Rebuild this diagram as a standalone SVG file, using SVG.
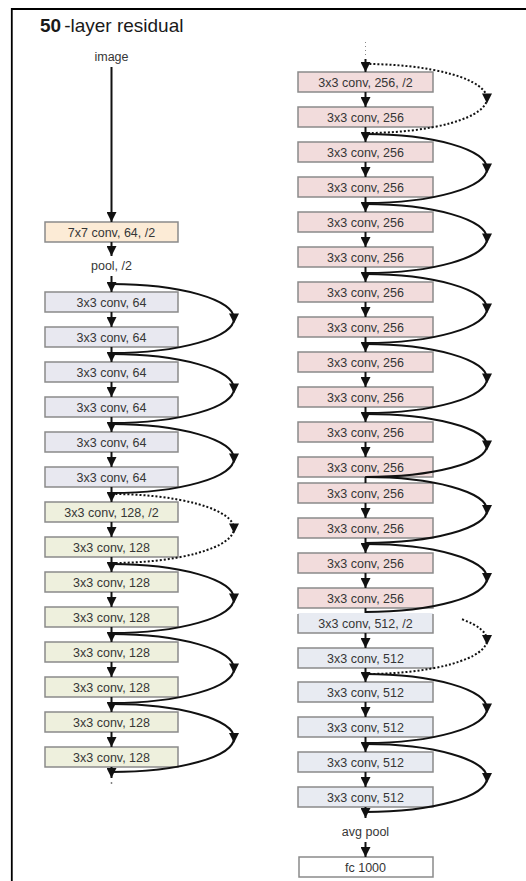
<svg xmlns="http://www.w3.org/2000/svg" width="526" height="881" viewBox="0 0 526 881">
<defs>
<style>
.bx{stroke:#8a8a8a;stroke-width:1.5}
.c64{fill:#e8e8f0}.c128{fill:#eef0dd}.c256{fill:#f2dcdc}.c512{fill:#e8ebf2}.c7{fill:#fcebd6}.cfc{fill:#ffffff}
.t{font-family:"Liberation Sans",Arial,sans-serif;font-size:12.5px;fill:#363636;text-anchor:middle}
.ln{fill:none;stroke:#111;stroke-width:2}
.ar{marker-end:url(#ah)}
.sk{fill:none;stroke:#111;stroke-width:2;marker-mid:url(#am)}
.dash{stroke-dasharray:2 2}
</style>
<marker id="ah" viewBox="0 0 10 10" refX="10" refY="5" markerWidth="11" markerHeight="10" markerUnits="userSpaceOnUse" orient="auto"><path d="M0,0 L10,5 L0,10 z" fill="#111"/></marker>
<marker id="am" viewBox="0 0 10 10" refX="5" refY="5" markerWidth="11" markerHeight="10" markerUnits="userSpaceOnUse" orient="auto"><path d="M0,0 L10,5 L0,10 z" fill="#111"/></marker>
</defs>
<rect width="526" height="881" fill="#fff"/>
<path d="M11.8,881 V9 H526" fill="none" stroke="#000" stroke-width="1.8"/>
<text x="40" y="31.5" font-family="'Liberation Sans',Arial,sans-serif" font-size="19" fill="#1a1a1a"><tspan font-weight="bold">50</tspan><tspan dx="3">-layer residual</tspan></text>

<g id="n-image"><text class="t" x="111.5" y="61" font-size="11">image</text></g>
<g id="n-conv7"><rect class="bx c7" x="45" y="222" width="133" height="20"/><text class="t" x="111.5" y="236.5">7x7 conv, 64, /2</text></g>
<g id="n-pool"><text class="t" x="111.5" y="270">pool, /2</text></g>

<g id="n-L0"><rect class="bx c64" x="45" y="292" width="133" height="20"/><text class="t" x="111.5" y="306.5">3x3 conv, 64</text></g>
<g id="n-L1"><rect class="bx c64" x="45" y="327" width="133" height="20"/><text class="t" x="111.5" y="341.5">3x3 conv, 64</text></g>
<g id="n-L2"><rect class="bx c64" x="45" y="362" width="133" height="20"/><text class="t" x="111.5" y="376.5">3x3 conv, 64</text></g>
<g id="n-L3"><rect class="bx c64" x="45" y="397" width="133" height="20"/><text class="t" x="111.5" y="411.5">3x3 conv, 64</text></g>
<g id="n-L4"><rect class="bx c64" x="45" y="432" width="133" height="20"/><text class="t" x="111.5" y="446.5">3x3 conv, 64</text></g>
<g id="n-L5"><rect class="bx c64" x="45" y="467" width="133" height="20"/><text class="t" x="111.5" y="481.5">3x3 conv, 64</text></g>
<g id="n-L6"><rect class="bx c128" x="45" y="502" width="133" height="20"/><text class="t" x="111.5" y="516.5">3x3 conv, 128, /2</text></g>
<g id="n-L7"><rect class="bx c128" x="45" y="537" width="133" height="20"/><text class="t" x="111.5" y="551.5">3x3 conv, 128</text></g>
<g id="n-L8"><rect class="bx c128" x="45" y="572" width="133" height="20"/><text class="t" x="111.5" y="586.5">3x3 conv, 128</text></g>
<g id="n-L9"><rect class="bx c128" x="45" y="607" width="133" height="20"/><text class="t" x="111.5" y="621.5">3x3 conv, 128</text></g>
<g id="n-L10"><rect class="bx c128" x="45" y="642" width="133" height="20"/><text class="t" x="111.5" y="656.5">3x3 conv, 128</text></g>
<g id="n-L11"><rect class="bx c128" x="45" y="677" width="133" height="20"/><text class="t" x="111.5" y="691.5">3x3 conv, 128</text></g>
<g id="n-L12"><rect class="bx c128" x="45" y="712" width="133" height="20"/><text class="t" x="111.5" y="726.5">3x3 conv, 128</text></g>
<g id="n-L13"><rect class="bx c128" x="45" y="747" width="133" height="20"/><text class="t" x="111.5" y="761.5">3x3 conv, 128</text></g>

<g id="n-R0"><rect class="bx c256" x="298" y="72" width="135" height="20"/><text class="t" x="365.5" y="86.5">3x3 conv, 256, /2</text></g>
<g id="n-R1"><rect class="bx c256" x="298" y="107" width="135" height="20"/><text class="t" x="365.5" y="121.5">3x3 conv, 256</text></g>
<g id="n-R2"><rect class="bx c256" x="298" y="142" width="135" height="20"/><text class="t" x="365.5" y="156.5">3x3 conv, 256</text></g>
<g id="n-R3"><rect class="bx c256" x="298" y="177" width="135" height="20"/><text class="t" x="365.5" y="191.5">3x3 conv, 256</text></g>
<g id="n-R4"><rect class="bx c256" x="298" y="212" width="135" height="20"/><text class="t" x="365.5" y="226.5">3x3 conv, 256</text></g>
<g id="n-R5"><rect class="bx c256" x="298" y="247" width="135" height="20"/><text class="t" x="365.5" y="261.5">3x3 conv, 256</text></g>
<g id="n-R6"><rect class="bx c256" x="298" y="282" width="135" height="20"/><text class="t" x="365.5" y="296.5">3x3 conv, 256</text></g>
<g id="n-R7"><rect class="bx c256" x="298" y="317" width="135" height="20"/><text class="t" x="365.5" y="331.5">3x3 conv, 256</text></g>
<g id="n-R8"><rect class="bx c256" x="298" y="352" width="135" height="20"/><text class="t" x="365.5" y="366.5">3x3 conv, 256</text></g>
<g id="n-R9"><rect class="bx c256" x="298" y="387" width="135" height="20"/><text class="t" x="365.5" y="401.5">3x3 conv, 256</text></g>
<g id="n-R10"><rect class="bx c256" x="298" y="422" width="135" height="20"/><text class="t" x="365.5" y="436.5">3x3 conv, 256</text></g>
<g id="n-R11"><rect class="bx c256" x="298" y="457" width="135" height="20"/><text class="t" x="365.5" y="471.5">3x3 conv, 256</text></g>
<g id="n-R12"><rect class="bx c256" x="298" y="483" width="135" height="20"/><text class="t" x="365.5" y="497.5">3x3 conv, 256</text></g>
<g id="n-R13"><rect class="bx c256" x="298" y="518" width="135" height="20"/><text class="t" x="365.5" y="532.5">3x3 conv, 256</text></g>
<g id="n-R14"><rect class="bx c256" x="298" y="553" width="135" height="20"/><text class="t" x="365.5" y="567.5">3x3 conv, 256</text></g>
<g id="n-R15"><rect class="bx c256" x="298" y="588" width="135" height="20"/><text class="t" x="365.5" y="602.5">3x3 conv, 256</text></g>

<g id="n-K0"><rect class="c512" x="298" y="613" width="135" height="20"/><path class="bx" d="M298,614 V633 H433 V614" fill="none"/><text class="t" x="365.5" y="627.5">3x3 conv, 512, /2</text></g>
<g id="n-K1"><rect class="bx c512" x="298" y="648" width="135" height="20"/><text class="t" x="365.5" y="662.5">3x3 conv, 512</text></g>
<g id="n-K2"><rect class="bx c512" x="298" y="682" width="135" height="20"/><text class="t" x="365.5" y="696.5">3x3 conv, 512</text></g>
<g id="n-K3"><rect class="bx c512" x="298" y="717" width="135" height="20"/><text class="t" x="365.5" y="731.5">3x3 conv, 512</text></g>
<g id="n-K4"><rect class="bx c512" x="298" y="752" width="135" height="20"/><text class="t" x="365.5" y="766.5">3x3 conv, 512</text></g>
<g id="n-K5"><rect class="bx c512" x="298" y="787" width="135" height="20"/><text class="t" x="365.5" y="801.5">3x3 conv, 512</text></g>
<g id="n-avgpool"><text class="t" x="365.5" y="836">avg pool</text></g>
<g id="n-fc"><rect class="bx cfc" x="299" y="857" width="134" height="20"/><text class="t" x="365.5" y="871.5">fc 1000</text></g>

<g id="connectors">
<path class="ln ar" d="M111.5,67 V222"/>
<path class="ln ar" d="M111.5,242 V256"/>
<path class="ln ar" d="M111.5,276 V292"/>
<path class="ln ar" d="M111.5,312 V327"/>
<path class="ln ar" d="M111.5,347 V362"/>
<path class="ln ar" d="M111.5,382 V397"/>
<path class="ln ar" d="M111.5,417 V432"/>
<path class="ln ar" d="M111.5,452 V467"/>
<path class="ln ar" d="M111.5,487 V502"/>
<path class="ln ar" d="M111.5,522 V537"/>
<path class="ln ar" d="M111.5,557 V572"/>
<path class="ln ar" d="M111.5,592 V607"/>
<path class="ln ar" d="M111.5,627 V642"/>
<path class="ln ar" d="M111.5,662 V677"/>
<path class="ln ar" d="M111.5,697 V712"/>
<path class="ln ar" d="M111.5,732 V747"/>
<path class="ln ar" d="M111.5,767 V778"/>
<circle cx="111.5" cy="783" r="0.9" fill="#777"/>

<path class="sk" d="M111.5,284 A122.5,34.5 0 0 1 234,318.5 A122.5,34.5 0 0 1 111.5,353"/>
<path class="sk" d="M111.5,354 A122.5,34.5 0 0 1 234,388.5 A122.5,34.5 0 0 1 111.5,423"/>
<path class="sk" d="M111.5,424 A122.5,34.5 0 0 1 234,458.5 A122.5,34.5 0 0 1 111.5,493"/>
<path class="sk dash" d="M111.5,494 A122.5,34.5 0 0 1 234,528.5 A122.5,34.5 0 0 1 111.5,563"/>
<path class="sk" d="M111.5,564 A122.5,34.5 0 0 1 234,598.5 A122.5,34.5 0 0 1 111.5,633"/>
<path class="sk" d="M111.5,634 A122.5,34.5 0 0 1 234,668.5 A122.5,34.5 0 0 1 111.5,703"/>
<path class="sk" d="M111.5,704 A122.5,34 0 0 1 234,738 A122.5,34 0 0 1 111.5,772"/>

<path d="M365.5,42 V58" fill="none" stroke="#888" stroke-width="1" stroke-dasharray="1 3"/>
<path class="ln ar" d="M365.5,59 V72"/>
<path class="ln ar" d="M365.5,92 V107"/>
<path class="ln ar" d="M365.5,127 V142"/>
<path class="ln ar" d="M365.5,162 V177"/>
<path class="ln ar" d="M365.5,197 V212"/>
<path class="ln ar" d="M365.5,232 V247"/>
<path class="ln ar" d="M365.5,267 V282"/>
<path class="ln ar" d="M365.5,302 V317"/>
<path class="ln ar" d="M365.5,337 V352"/>
<path class="ln ar" d="M365.5,372 V387"/>
<path class="ln ar" d="M365.5,407 V422"/>
<path class="ln ar" d="M365.5,442 V457"/>
<path class="ln" d="M365.5,477 V483"/>
<path class="ln ar" d="M365.5,503 V518"/>
<path class="ln ar" d="M365.5,538 V553"/>
<path class="ln ar" d="M365.5,573 V588"/>
<path class="ln" d="M365.5,608 V613"/>
<path class="ln ar" d="M365.5,633 V648"/>
<path class="ln ar" d="M365.5,668 V682"/>
<path class="ln ar" d="M365.5,702 V717"/>
<path class="ln ar" d="M365.5,737 V752"/>
<path class="ln ar" d="M365.5,772 V787"/>
<path class="ln ar" d="M365.5,807 V818"/>
<path class="ln ar" d="M365.5,842 V857"/>

<path class="sk dash" d="M365.5,64 A121.5,34.5 0 0 1 487,98.5 A121.5,34.5 0 0 1 365.5,133"/>
<path class="sk" d="M365.5,134 A121.5,34.5 0 0 1 487,168.5 A121.5,34.5 0 0 1 365.5,203"/>
<path class="sk" d="M365.5,204 A121.5,34.5 0 0 1 487,238.5 A121.5,34.5 0 0 1 365.5,273"/>
<path class="sk" d="M365.5,274 A121.5,34.5 0 0 1 487,308.5 A121.5,34.5 0 0 1 365.5,343"/>
<path class="sk" d="M365.5,344 A121.5,34.5 0 0 1 487,378.5 A121.5,34.5 0 0 1 365.5,413"/>
<path class="sk" d="M365.5,414 A121.5,31.5 0 0 1 487,445.5 A121.5,31.5 0 0 1 365.5,477"/>
<path class="sk" d="M365.5,477 A121.5,33 0 0 1 487,510 A121.5,33 0 0 1 365.5,543"/>
<path class="sk" d="M365.5,544 A121.5,34 0 0 1 487,578 A121.5,34 0 0 1 365.5,612"/>
<path class="sk dash" d="M462,619.3 A121.5,34 0 0 1 487,640 A121.5,34 0 0 1 365.5,674"/>
<path class="sk" d="M365.5,674 A121.5,34.5 0 0 1 487,708.5 A121.5,34.5 0 0 1 365.5,743"/>
<path class="sk" d="M365.5,744 A121.5,34 0 0 1 487,778 A121.5,34 0 0 1 365.5,812"/>
</g>
</svg>
